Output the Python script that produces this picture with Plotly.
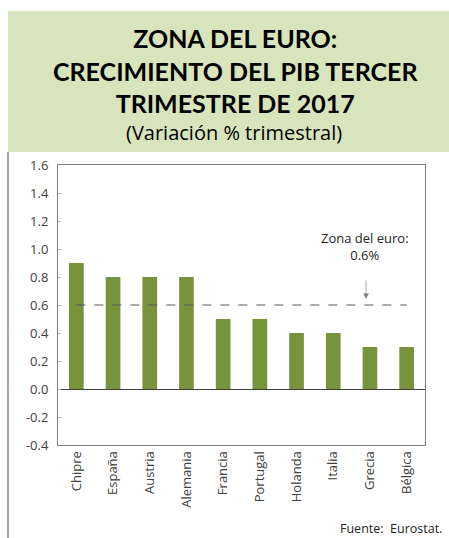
import plotly.graph_objects as go

countries = ["Chipre", "España", "Austria", "Alemania", "Francia",
             "Portugal", "Holanda", "Italia", "Grecia", "Bélgica"]
growth = [0.9, 0.8, 0.8, 0.8, 0.5, 0.5, 0.4, 0.4, 0.3, 0.3]
euro_zone = 0.6
y_ticks = [-0.4, -0.2, 0.0, 0.2, 0.4, 0.6, 0.8, 1.0, 1.2, 1.4, 1.6]
y_tick_text = ["-0.4", "-0.2", "0.0", "0.2", "0.4", "0.6", "0.8", "1.0", "1.2", "1.4", "1.6"]

W, H = 449, 538
L, R, T, B = 58, 425, 165, 445
pw, ph = R - L, B - T

def px(x):
    return (x - L) / pw

def py(y):
    return (B - y) / ph

fig = go.Figure()
fig.add_trace(go.Bar(x=countries, y=growth, marker_color="#77933c",
                     marker_line_width=0, showlegend=False))
fig.add_trace(go.Scatter(x=countries, y=[euro_zone] * len(countries), mode="lines",
                         line=dict(color="#595959", width=1.2, dash="dash"),
                         showlegend=False, hoverinfo="skip"))

fig.update_layout(
    width=W, height=H,
    margin=dict(l=L, r=W - R, t=T, b=H - B),
    paper_bgcolor="white", plot_bgcolor="white",
    bargap=0.6,
    font=dict(family="Open Sans", color="#404040", size=13),
    xaxis=dict(showline=True, linecolor="#7f7f7f", linewidth=1, mirror=True,
               tickangle=-90, ticks="", tickfont=dict(size=13, color="#404040"),
               showgrid=False),
    yaxis=dict(range=[-0.4, 1.6], tickvals=y_ticks, ticktext=y_tick_text,
               showline=True, linecolor="#7f7f7f", linewidth=1, mirror=True,
               ticks="inside", ticklen=3, tickcolor="#bfbfbf",
               showgrid=False, zeroline=True, zerolinecolor="#404040", zerolinewidth=1.2,
               tickfont=dict(size=13, color="#404040"), ticklabelstandoff=6),
    shapes=[
        dict(type="rect", xref="paper", yref="paper",
             x0=px(8), x1=px(449), y0=py(152), y1=py(11),
             fillcolor="#d8e4bc", line_width=0, layer="below"),
        dict(type="line", xref="paper", yref="paper",
             x0=px(8), x1=px(8), y0=py(152), y1=py(538),
             line=dict(color="#a6a6a6", width=2)),
    ],
    annotations=[
        dict(text="<b>ZONA DEL EURO:<br>CRECIMIENTO DEL PIB TERCER<br>TRIMESTRE DE 2017</b>",
             xref="paper", yref="paper", x=px(235), y=py(70), xanchor="center", yanchor="middle",
             showarrow=False, font=dict(family="Lato", size=25, color="black", weight=900)),
        dict(text="(Variación % trimestral)",
             xref="paper", yref="paper", x=px(234), y=py(132), xanchor="center", yanchor="middle",
             showarrow=False, font=dict(family="Open Sans", size=20, color="black")),
        dict(text="Zona del euro:<br>0.6%", xref="paper", yref="paper",
             x=px(365), y=py(246), xanchor="center", yanchor="middle",
             showarrow=False, font=dict(size=13, color="#262626")),
        dict(text="", xref="paper", yref="paper", x=px(366), y=py(299),
             ax=0, ay=-20, axref="pixel", ayref="pixel",
             showarrow=True, arrowhead=2, arrowsize=1.6, arrowwidth=0.7, arrowcolor="#7f7f7f"),
        dict(text="Fuente:  Eurostat.", xref="paper", yref="paper",
             x=px(444), y=py(528), xanchor="right", yanchor="middle",
             showarrow=False, font=dict(size=12.5, color="#262626")),
    ],
)

fig.write_html("out.html", config={"displayModeBar": False},
               post_script="document.body.style.margin='0';document.body.style.padding='0';document.body.style.overflow='hidden';")
